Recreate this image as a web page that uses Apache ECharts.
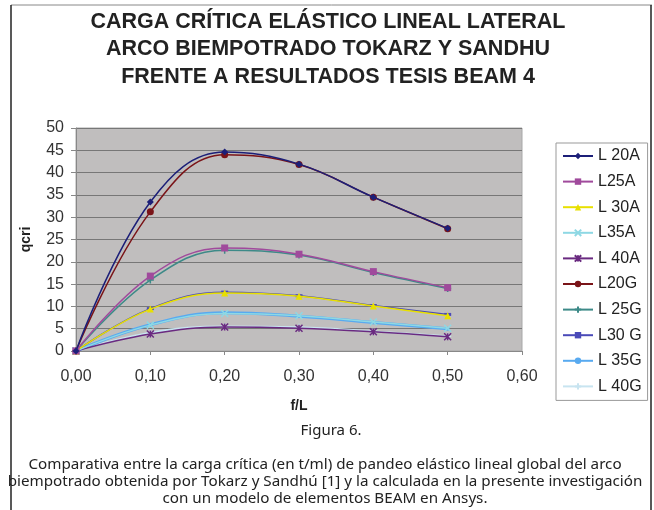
<!DOCTYPE html>
<html>
<head>
<meta charset="utf-8">
<script src="https://cdn.jsdelivr.net/npm/echarts@6/dist/echarts.min.js"></script>
<style>html,body{margin:0;padding:0;background:#fff}#c{width:654px;height:510px}</style>
</head>
<body>
<div id="c"></div>
<script>
const xValues = [0, 0.1, 0.2, 0.3, 0.4, 0.5];
const seriesNames = ['L 20A','L25A','L 30A','L35A','L 40A','L20G','L 25G','L30 G','L 35G','L 40G'];
const L20A = [0, 33.4, 44.6, 41.9, 34.5, 27.5];
const L25A = [0, 16.8, 23.1, 21.7, 17.8, 14.2];
const L30A = [0, 9.4, 13.0, 12.3, 10.1, 7.9];
const L35A = [0, 5.8, 8.4, 7.9, 6.5, 5.1];
const L40A = [0, 3.8, 5.4, 5.1, 4.3, 3.2];
const L20G = [0, 31.2, 44.0, 41.8, 34.5, 27.4];
const L25G = [0, 15.9, 22.6, 21.5, 17.6, 14.0];
const L30G = [0, 9.5, 13.2, 12.4, 10.2, 8.2];
const L35G = [0, 5.9, 8.6, 7.8, 6.4, 5.0];
const L40G = [0, 4.1, 5.5, 5.3, 4.4, 3.3];
const xTicks = ['0,00','0,10','0,20','0,30','0,40','0,50','0,60'];
const yMin = 0, yMax = 50, yStep = 5;

const allData = [L20A, L25A, L30A, L35A, L40A, L20G, L25G, L30G, L35G, L40G];
const colors = ['#1c1f78','#a04a9c','#e8e000','#8ed8e4','#6a2a80','#7a1418','#3d8a88','#4a4ab8','#58aaf0','#c8e4f0'];
const symbols = ['diamond','rect','triangle','path://M0,0L10,10M10,0L0,10','path://M0,0L10,10M10,0L0,10M5,0L5,10','circle','path://M5,0L5,10M0,5L10,5','path://M0,0L10,0L10,3L0,3Z','circle','path://M5,0L5,10M0,5L10,5'];
const symSizes = [7,7,7,7,7,7,7,[7,3],4,7];
const widths = [1.5,1.5,1.5,1.5,1.5,1.5,1.5,1.5,3,2];
const strokeSym = [false,false,false,true,true,false,true,false,false,true];

const series = seriesNames.map((n,i)=>({
  name:n, type:'line', smooth:0.4,
  data: xValues.map((x,j)=>[x, allData[i][j]]),
  symbol: symbols[i], symbolSize: symSizes[i],
  lineStyle:{color:colors[i], width:widths[i]},
  itemStyle:{color:colors[i], borderColor:colors[i], borderWidth: strokeSym[i] ? 1.5 : 0},
  z: 10 - i
}));

const chart = echarts.init(document.getElementById('c'), null, {renderer:'canvas'});
chart.setOption({
  animation:false,
  backgroundColor:'#fff',
  title:[
    {text:'CARGA CRÍTICA ELÁSTICO LINEAL LATERAL\nARCO BIEMPOTRADO TOKARZ Y SANDHU\nFRENTE A RESULTADOS TESIS BEAM 4',
     left:323, top:3, textAlign:'center',
     textStyle:{fontFamily:'Liberation Sans', fontWeight:'bold', fontSize:21.5, color:'#222', lineHeight:27.5}},
    {text:'Figura 6.', left:326, top:418, textAlign:'center',
     textStyle:{fontFamily:'Noto Sans', fontWeight:'normal', fontSize:15, color:'#222'}},
    {text:'Comparativa entre la carga crítica (en t/ml) de pandeo elástico lineal global del arco\nbiempotrado obtenida por Tokarz y Sandhú [1] y la calculada en la presente investigación\ncon un modelo de elementos BEAM en Ansys.',
     left:320, top:451, textAlign:'center',
     textStyle:{fontFamily:'Noto Sans', fontWeight:'normal', fontSize:15.2, color:'#222', lineHeight:17}}
  ],
  grid:{left:76, top:128, width:446, height:223, show:true, backgroundColor:'#c0bebe', borderColor:'#a8a8a8', borderWidth:1},
  xAxis:{type:'value', min:0, max:0.6, interval:0.1,
    name:'f/L', nameLocation:'middle', nameGap:48,
    nameTextStyle:{fontFamily:'Liberation Sans', fontWeight:'bold', fontSize:14, color:'#222'},
    axisLine:{show:true, lineStyle:{color:'#888'}},
    axisTick:{show:true, inside:false, length:4, lineStyle:{color:'#888'}},
    splitLine:{show:false},
    axisLabel:{fontFamily:'Liberation Sans', fontSize:16, color:'#333', margin:18,
      formatter:(v)=>xTicks[Math.round(v*10)]}},
  yAxis:{type:'value', min:yMin, max:yMax, interval:yStep,
    name:'qcri', nameLocation:'middle', nameGap:43, nameRotate:90,
    nameTextStyle:{fontFamily:'Liberation Sans', fontWeight:'bold', fontSize:14, color:'#222'},
    axisLine:{show:true, lineStyle:{color:'#888'}},
    axisTick:{show:true, length:5, lineStyle:{color:'#888'}},
    splitLine:{show:true, lineStyle:{color:'#777', width:1}},
    axisLabel:{fontFamily:'Liberation Sans', fontSize:16, color:'#333', margin:12}},
  legend:{orient:'vertical', left:556, top:143,
    padding:[5,6,6,6], itemGap:9.6, itemWidth:30, itemHeight:8,
    borderColor:'#999', borderWidth:1, backgroundColor:'#fff',
    textStyle:{fontFamily:'Liberation Sans', fontSize:16, color:'#222'},
    data:seriesNames},
  graphic:[
    {type:'line', shape:{x1:11, y1:5, x2:652, y2:5}, style:{stroke:'#888', lineWidth:1}},
    {type:'line', shape:{x1:11, y1:5, x2:11, y2:510}, style:{stroke:'#222', lineWidth:1.5}},
    {type:'line', shape:{x1:651, y1:5, x2:651, y2:510}, style:{stroke:'#222', lineWidth:1.5}}
  ],
  series:series
});
</script>
</body>
</html>
